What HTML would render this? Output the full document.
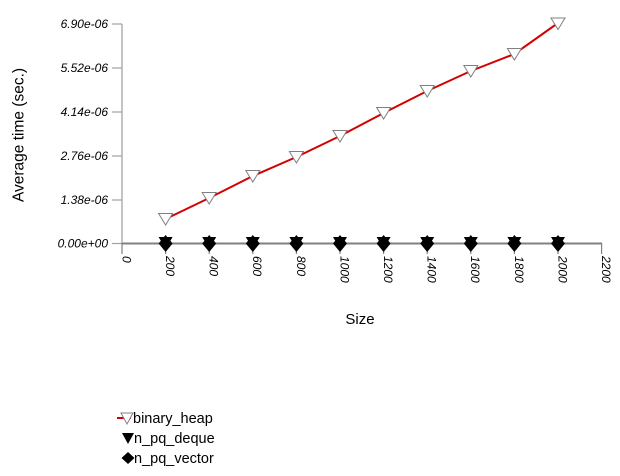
<!DOCTYPE html>
<html><head><meta charset="utf-8"><style>
html,body{margin:0;padding:0;background:#fff;}
svg{display:block;font-family:"Liberation Sans",sans-serif;}
</style></head><body>
<svg width="620" height="476" viewBox="0 0 620 476" xmlns="http://www.w3.org/2000/svg">
<rect width="620" height="476" fill="#fff"/>
<!-- axes -->
<line x1="122" y1="24" x2="122" y2="243.5" stroke="#b0b0b0" stroke-width="1.5"/>
<line x1="122" y1="243.5" x2="602" y2="243.5" stroke="#808080" stroke-width="2"/>
<!-- y ticks -->
<g stroke="#a0a0a0" stroke-width="1.2">
<line x1="112" y1="24" x2="122" y2="24"/>
<line x1="112" y1="68" x2="122" y2="68"/>
<line x1="112" y1="112" x2="122" y2="112"/>
<line x1="112" y1="156" x2="122" y2="156"/>
<line x1="112" y1="200" x2="122" y2="200"/>
<line x1="112" y1="243.5" x2="122" y2="243.5"/>
</g>
<g font-size="12" font-style="italic" text-anchor="end" fill="#000">
<text x="108" y="28">6.90e-06</text>
<text x="108" y="72">5.52e-06</text>
<text x="108" y="116">4.14e-06</text>
<text x="108" y="160">2.76e-06</text>
<text x="108" y="204">1.38e-06</text>
<text x="108" y="247.5">0.00e+00</text>
</g>
<!-- x ticks -->
<g stroke="#808080" stroke-width="1.2">
<line x1="122" y1="243" x2="122" y2="254"/>
<line x1="165.6" y1="243" x2="165.6" y2="254"/>
<line x1="209.2" y1="243" x2="209.2" y2="254"/>
<line x1="252.8" y1="243" x2="252.8" y2="254"/>
<line x1="296.4" y1="243" x2="296.4" y2="254"/>
<line x1="340" y1="243" x2="340" y2="254"/>
<line x1="383.6" y1="243" x2="383.6" y2="254"/>
<line x1="427.2" y1="243" x2="427.2" y2="254"/>
<line x1="470.8" y1="243" x2="470.8" y2="254"/>
<line x1="514.4" y1="243" x2="514.4" y2="254"/>
<line x1="558" y1="243" x2="558" y2="254"/>
<line x1="601.6" y1="243" x2="601.6" y2="254"/>
</g>
<g font-size="12" font-style="italic" fill="#000">
<text transform="translate(122.5,256) rotate(90)">0</text>
<text transform="translate(166,256) rotate(90)">200</text>
<text transform="translate(209.5,256) rotate(90)">400</text>
<text transform="translate(253,256) rotate(90)">600</text>
<text transform="translate(297,256) rotate(90)">800</text>
<text transform="translate(340.5,256) rotate(90)">1000</text>
<text transform="translate(384,256) rotate(90)">1200</text>
<text transform="translate(427.5,256) rotate(90)">1400</text>
<text transform="translate(471,256) rotate(90)">1600</text>
<text transform="translate(515,256) rotate(90)">1800</text>
<text transform="translate(558.5,256) rotate(90)">2000</text>
<text transform="translate(602,256) rotate(90)">2200</text>
</g>
<!-- axis titles -->
<text x="360" y="324" font-size="15" text-anchor="middle" fill="#000">Size</text>
<text transform="translate(23.5,135) rotate(-90)" font-size="15.5" text-anchor="middle" fill="#000">Average time (sec.)</text>
<!-- binary_heap line -->
<polyline points="165.6,219 209.2,198 252.8,176 296.4,157 340,136 383.6,113 427.2,91 470.8,71 514.4,54 558,23" fill="none" stroke="#d40000" stroke-width="2"/>
<!-- black series markers -->
<g fill="#000">
<polygon points="158.6,237 172.6,237 165.6,249"/><polygon points="165.6,235 172.6,243.5 165.6,252 158.6,243.5"/>
<polygon points="202.2,237 216.2,237 209.2,249"/><polygon points="209.2,235 216.2,243.5 209.2,252 202.2,243.5"/>
<polygon points="245.8,237 259.8,237 252.8,249"/><polygon points="252.8,235 259.8,243.5 252.8,252 245.8,243.5"/>
<polygon points="289.4,237 303.4,237 296.4,249"/><polygon points="296.4,235 303.4,243.5 296.4,252 289.4,243.5"/>
<polygon points="333,237 347,237 340,249"/><polygon points="340,235 347,243.5 340,252 333,243.5"/>
<polygon points="376.6,237 390.6,237 383.6,249"/><polygon points="383.6,235 390.6,243.5 383.6,252 376.6,243.5"/>
<polygon points="420.2,237 434.2,237 427.2,249"/><polygon points="427.2,235 434.2,243.5 427.2,252 420.2,243.5"/>
<polygon points="463.8,237 477.8,237 470.8,249"/><polygon points="470.8,235 477.8,243.5 470.8,252 463.8,243.5"/>
<polygon points="507.4,237 521.4,237 514.4,249"/><polygon points="514.4,235 521.4,243.5 514.4,252 507.4,243.5"/>
<polygon points="551,237 565,237 558,249"/><polygon points="558,235 565,243.5 558,252 551,243.5"/>
</g>
<!-- binary_heap markers -->
<g fill="#fff" stroke="#808080" stroke-width="1">
<polygon points="158.6,213.5 172.6,213.5 165.6,225"/>
<polygon points="202.2,192.5 216.2,192.5 209.2,204"/>
<polygon points="245.8,170.5 259.8,170.5 252.8,182"/>
<polygon points="289.4,151.5 303.4,151.5 296.4,163"/>
<polygon points="333,130.5 347,130.5 340,142"/>
<polygon points="376.6,107.5 390.6,107.5 383.6,119"/>
<polygon points="420.2,85.5 434.2,85.5 427.2,97"/>
<polygon points="463.8,65.5 477.8,65.5 470.8,77"/>
<polygon points="507.4,48.5 521.4,48.5 514.4,60"/>
<polygon points="551,18 565,18 558,29.5"/>
</g>
<!-- legend -->
<line x1="117" y1="418" x2="131" y2="418" stroke="#d40000" stroke-width="2"/>
<polygon points="121,413 133,413 127,424" fill="#fff" stroke="#808080" stroke-width="1"/>
<polygon points="122,433 134,433 128,444" fill="#000"/>
<polygon points="128,452 134.5,458 128,464 121.5,458" fill="#000"/>
<g font-size="14.5" fill="#000">
<text x="133" y="423">binary_heap</text>
<text x="134" y="443">n_pq_deque</text>
<text x="134" y="463">n_pq_vector</text>
</g>
</svg>
</body></html>
